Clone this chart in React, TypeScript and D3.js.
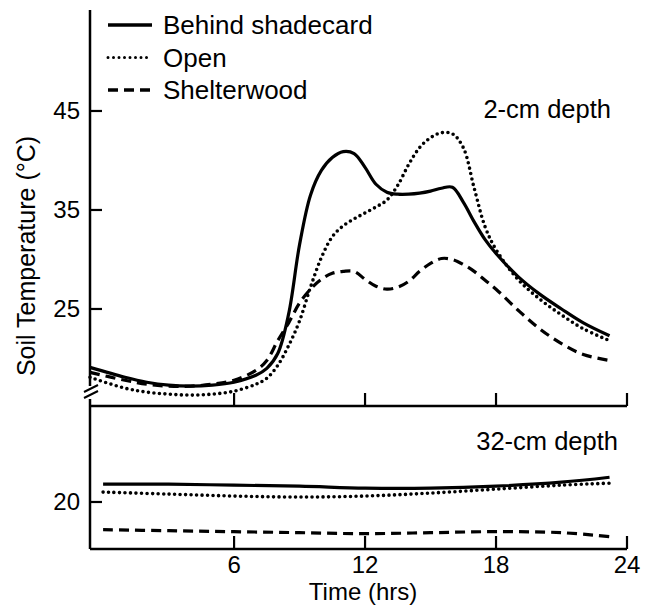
import React from 'react';
import * as d3 from 'd3';

// hours of day (top panel readings)
const topHours = [-0.6, 1, 2, 3, 4, 5, 6, 7, 7.5, 8, 8.5, 9, 9.5, 10, 10.5, 11, 11.5, 12, 12.5, 13, 13.5, 14, 14.5, 15, 15.5, 16, 16.5, 17, 17.5, 18, 19, 20, 21, 22, 23.2];
const behindTop = [19.1, 18.1, 17.6, 17.3, 17.2, 17.3, 17.6, 18.3, 19.0, 20.5, 24.5, 31.5, 36.5, 39.0, 40.3, 40.9, 40.7, 39.3, 37.6, 36.8, 36.6, 36.6, 36.7, 36.9, 37.2, 37.3, 35.8, 33.8, 32.0, 30.6, 28.3, 26.5, 25.0, 23.6, 22.3];
const openTop = [18.1, 17.0, 16.6, 16.4, 16.3, 16.4, 16.7, 17.4, 18.0, 19.3, 21.3, 23.8, 27.2, 30.2, 32.3, 33.4, 34.1, 34.7, 35.3, 36.0, 37.5, 39.6, 41.3, 42.3, 42.8, 42.7, 41.3, 37.2, 33.3, 31.0, 28.0, 26.0, 24.4, 23.0, 21.8];
const shelterTop = [18.6, 17.8, 17.4, 17.2, 17.2, 17.4, 17.8, 18.8, 19.8, 21.8, 23.6, 25.6, 27.0, 28.0, 28.6, 28.8, 28.8, 28.0, 27.3, 27.0, 27.2, 27.8, 28.8, 29.6, 30.1, 30.0, 29.5, 28.8, 27.9, 27.0, 24.9, 23.0, 21.5, 20.4, 19.8];

// bottom panel readings (32-cm depth)
const bottomHours = [0, 3, 6, 9, 12, 15, 18, 21, 23.2];
const behindBottom = [21.8, 21.8, 21.7, 21.6, 21.4, 21.4, 21.6, 22.0, 22.5];
const openBottom = [21.0, 20.8, 20.6, 20.5, 20.6, 20.9, 21.3, 21.7, 21.9];
const shelterBottom = [17.2, 17.1, 17.0, 16.9, 16.8, 16.9, 17.0, 16.9, 16.5];

const xTicks = [6, 12, 18, 24];
const topTicks = [45, 35, 25];
const bottomTicks = [20];
const legendLabels = ['Behind shadecard', 'Open', 'Shelterwood'];

const FONT = 'Liberation Sans, Arial, Helvetica, sans-serif';

const styles = [
  { dash: null, cap: 'butt', w: 3.2 },
  { dash: '0 5.5', cap: 'round', w: 3.6 },
  { dash: '10 6', cap: 'butt', w: 3.2 },
];

const App = () => {
  const width = 651;
  const height = 605;
  const left = 90;

  const x = d3.scaleLinear().domain([-0.6, 24]).range([left, 627]);
  const yTop = d3.scaleLinear().domain([15.2, 55.2]).range([406, 10]);
  const yBot = d3.scaleLinear().domain([15.25, 29.7]).range([549, 406]);

  const line = (hours: number[], yS: d3.ScaleLinear<number, number>) =>
    d3.line<number>()
      .x((_, i) => x(hours[i]))
      .y(d => yS(d))
      .curve(d3.curveCatmullRom.alpha(0.5));

  const topSeries = [behindTop, openTop, shelterTop];
  const botSeries = [behindBottom, openBottom, shelterBottom];

  const tickH = 13;

  return (
    <svg width={width} height={height} style={{ position: 'absolute', left: 0, top: 0, background: '#fff' }}
      fontFamily={FONT}>
      <rect width={width} height={height} fill="#fff" />
      {/* y axis top, with break */}
      <line x1={left} x2={left} y1={10} y2={386} stroke="#000" strokeWidth={2.5} />
      <line x1={left} x2={left} y1={399} y2={549} stroke="#000" strokeWidth={2.5} />
      <line x1={84} x2={98} y1={392} y2={385} stroke="#000" strokeWidth={2} />
      <line x1={84} x2={98} y1={398} y2={391} stroke="#000" strokeWidth={2} />
      {/* x axes */}
      <line x1={left} x2={x(24)} y1={yTop(15.2)} y2={yTop(15.2)} stroke="#000" strokeWidth={2.5} />
      <line x1={left} x2={x(24)} y1={yBot(15.25)} y2={yBot(15.25)} stroke="#000" strokeWidth={2.5} />
      {xTicks.map(t => (
        <g key={t}>
          <line x1={x(t)} x2={x(t)} y1={yTop(15.2)} y2={yTop(15.2) - tickH} stroke="#000" strokeWidth={2.2} />
          <line x1={x(t)} x2={x(t)} y1={yBot(15.25)} y2={yBot(15.25) - tickH} stroke="#000" strokeWidth={2.2} />
          <text x={x(t)} y={573} textAnchor="middle" fontSize={24}>{t}</text>
        </g>
      ))}
      {topTicks.map(v => (
        <g key={v}>
          <line x1={left} x2={left + 12} y1={yTop(v)} y2={yTop(v)} stroke="#000" strokeWidth={2.2} />
          <text x={80} y={yTop(v) + 8} textAnchor="end" fontSize={24}>{v}</text>
        </g>
      ))}
      {bottomTicks.map(v => (
        <g key={v}>
          <line x1={left} x2={left + 12} y1={yBot(v)} y2={yBot(v)} stroke="#000" strokeWidth={2.2} />
          <text x={80} y={yBot(v) + 8} textAnchor="end" fontSize={24}>{v}</text>
        </g>
      ))}
      <text x={363} y={600} textAnchor="middle" fontSize={24}>Time (hrs)</text>
      <text transform="translate(35,256) rotate(-90)" textAnchor="middle" fontSize={25}>Soil Temperature (°C)</text>
      <text x={611} y={118} textAnchor="end" fontSize={25.5}>2-cm depth</text>
      <text x={618} y={450} textAnchor="end" fontSize={25.5}>32-cm depth</text>

      {topSeries.map((s, i) => (
        <path key={'t' + i} d={line(topHours, yTop)(s) || ''} fill="none" stroke="#000" strokeWidth={styles[i].w}
          strokeDasharray={styles[i].dash || undefined} strokeLinecap={styles[i].cap as any} />
      ))}
      {botSeries.map((s, i) => (
        <path key={'b' + i} d={line(bottomHours, yBot)(s) || ''} fill="none" stroke="#000" strokeWidth={styles[i].w}
          strokeDasharray={styles[i].dash || undefined} strokeLinecap={styles[i].cap as any} />
      ))}

      {legendLabels.map((l, i) => (
        <g key={l} transform={`translate(108,${25 + i * 32.5})`}>
          <line x1={0} x2={44} y1={0} y2={0} stroke="#000" strokeWidth={i === 1 ? 3 : 3.5}
            strokeDasharray={i === 1 ? '0 5.5' : i === 2 ? '10 6' : undefined}
            strokeLinecap={i === 1 ? 'round' : 'butt'} />
          <text x={55} y={9} fontSize={26}>{l}</text>
        </g>
      ))}
    </svg>
  );
};

export default App;
